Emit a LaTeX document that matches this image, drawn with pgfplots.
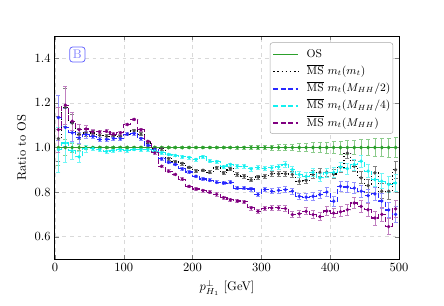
\documentclass[border=0pt]{standalone}
\usepackage{pgfplots}
\usepackage{pgfplotstable}
\pgfplotsset{compat=1.18}
\definecolor{osgreen}{RGB}{44,160,44}
\definecolor{msblue}{RGB}{40,40,255}
\definecolor{mscyan}{RGB}{20,240,240}
\definecolor{mspurple}{RGB}{128,0,128}
\definecolor{bbox}{RGB}{100,100,255}
\definecolor{legdraw}{RGB}{170,170,170}

\pgfplotstableread{
x   os  eos   mt    h2    h4    h1    e
5   1.0 0.080 1.040 1.134 0.990 1.080 0.100
15  1.0 0.035 1.180 1.090 1.020 1.190 0.085
25  1.0 0.020 1.110 1.066 0.985 1.118 0.040
35  1.0 0.012 1.060 1.043 0.958 1.080 0.025
45  1.0 0.008 1.065 1.058 0.995 1.083 0.015
55  1.0 0.004 1.065 1.050 0.995 1.070 0.010
65  1.0 0.004 1.055 1.036 0.990 1.070 0.008
75  1.0 0.004 1.050 1.036 0.982 1.073 0.007
85  1.0 0.004 1.055 1.040 0.986 1.060 0.006
95  1.0 0.004 1.050 1.040 0.990 1.066 0.006
105 1.0 0.004 1.060 1.060 0.986 1.103 0.006
115 1.0 0.004 1.075 1.062 0.991 1.126 0.006
125 1.0 0.004 1.060 1.040 0.990 1.080 0.006
135 1.0 0.004 1.020 1.010 0.990 1.028 0.006
145 1.0 0.004 0.995 0.990 0.984 0.976 0.006
155 1.0 0.004 0.995 0.949 0.976 0.916 0.006
165 1.0 0.004 0.950 0.934 0.969 0.894 0.006
175 1.0 0.004 0.935 0.924 0.964 0.879 0.006
185 1.0 0.004 0.928 0.904 0.958 0.858 0.006
195 1.0 0.004 0.911 0.890 0.955 0.826 0.006
205 1.0 0.005 0.895 0.871 0.946 0.814 0.006
215 1.0 0.005 0.898 0.859 0.958 0.807 0.006
225 1.0 0.005 0.889 0.853 0.939 0.800 0.007
235 1.0 0.006 0.909 0.844 0.936 0.790 0.007
245 1.0 0.006 0.886 0.841 0.913 0.775 0.007
255 1.0 0.006 0.904 0.844 0.924 0.765 0.007
265 1.0 0.007 0.879 0.818 0.916 0.760 0.008
275 1.0 0.007 0.871 0.818 0.916 0.756 0.008
285 1.0 0.008 0.855 0.814 0.904 0.729 0.009
295 1.0 0.008 0.868 0.789 0.909 0.714 0.009
305 1.0 0.010 0.871 0.812 0.906 0.727 0.010
315 1.0 0.011 0.882 0.804 0.909 0.729 0.011
325 1.0 0.012 0.882 0.808 0.913 0.729 0.012
335 1.0 0.014 0.882 0.811 0.924 0.726 0.013
345 1.0 0.015 0.879 0.804 0.901 0.699 0.014
355 1.0 0.017 0.849 0.781 0.879 0.703 0.015
365 1.0 0.019 0.853 0.777 0.871 0.714 0.016
375 1.0 0.021 0.879 0.781 0.889 0.699 0.017
385 1.0 0.023 0.889 0.789 0.864 0.690 0.018
395 1.0 0.025 0.889 0.800 0.886 0.715 0.019
405 1.0 0.027 0.881 0.759 0.888 0.706 0.021
415 1.0 0.029 0.911 0.826 0.913 0.712 0.022
425 1.0 0.031 0.975 0.823 0.905 0.721 0.024
435 1.0 0.033 0.916 0.818 0.924 0.751 0.025
445 1.0 0.035 0.864 0.804 0.939 0.736 0.027
455 1.0 0.037 0.829 0.784 0.894 0.721 0.029
465 1.0 0.039 0.886 0.792 0.856 0.684 0.031
475 1.0 0.041 0.804 0.760 0.849 0.700 0.033
485 1.0 0.043 0.804 0.720 0.834 0.645 0.035
495 1.0 0.045 0.900 0.700 0.841 0.725 0.037
}\data

\newcommand{\legline}[2]{{\color{#1}\tikz[baseline=-0.6ex]{\draw[color=#1, line width=1.3pt, #2] (0pt,0pt) -- (20pt,0pt);}}}

\begin{document}
\begin{tikzpicture}
\begin{axis}[
  name=ax,
  scale only axis,
  width=275.2pt, height=178.4pt,
  xmin=0, xmax=500, ymin=0.5, ymax=1.5,
  xtick={0,100,200,300,400,500},
  ytick={0.6,0.8,1.0,1.2,1.4},
  yticklabel style={/pgf/number format/.cd, fixed, fixed zerofill, precision=1},
  tick align=inside,
  xtick pos=both, ytick pos=both,
  major tick length=3.5pt,
  axis line style={line width=0.8pt},
  grid=major,
  major grid style={dashed, gray!30, line width=0.4pt},
  xlabel={$p_{H_1}^{\perp}$ [GeV]},
  ylabel={Ratio to OS},
  error bars/error bar style={solid, line width=0.6pt},
]
\pgfplotsset{every axis plot/.append style={const plot mark mid, line width=0.9pt, mark=*, mark size=0.85pt}}
% OS
\addplot[forget plot, osgreen, solid, line width=1.1pt, mark options={solid, fill=osgreen, draw=osgreen},
  error bars/.cd, y dir=both, y explicit,
  error bar style={osgreen!55}, error mark options={rotate=90, mark size=1.6pt, osgreen!55, line width=0.6pt}]
  table[x=x, y=os, y error=eos]{\data};
% MS mt(mt)
\addplot[forget plot, black, dotted, mark options={solid, fill=black!55, draw=black!70},
  error bars/.cd, y dir=both, y explicit,
  error bar style={black!50}, error mark options={rotate=90, mark size=1.6pt, black!50, line width=0.6pt}]
  table[x=x, y=mt, y error=e]{\data};
% MS mt(MHH/2)
\addplot[forget plot, msblue, dash pattern=on 4pt off 2pt, mark options={solid, fill=msblue, draw=msblue},
  error bars/.cd, y dir=both, y explicit,
  error bar style={msblue!50}, error mark options={rotate=90, mark size=1.6pt, msblue!50, line width=0.6pt}]
  table[x=x, y=h2, y error=e]{\data};
% MS mt(MHH/4)
\addplot[forget plot, mscyan, dash pattern=on 4pt off 2pt, mark options={solid, fill=mscyan, draw=mscyan},
  error bars/.cd, y dir=both, y explicit,
  error bar style={mscyan!60}, error mark options={rotate=90, mark size=1.6pt, mscyan!60, line width=0.6pt}]
  table[x=x, y=h4, y error=e]{\data};
% MS mt(MHH)
\addplot[forget plot, mspurple, dash pattern=on 4pt off 2pt, mark options={solid, fill=mspurple, draw=mspurple},
  error bars/.cd, y dir=both, y explicit,
  error bar style={mspurple!50}, error mark options={rotate=90, mark size=1.6pt, mspurple!50, line width=0.6pt}]
  table[x=x, y=h1, y error=e]{\data};

\node[draw=bbox, rounded corners=2pt, line width=0.6pt, text=bbox!80, inner sep=2.5pt, fill=white]
  at (rel axis cs:0.065,0.917) {B};

\node[draw=legdraw, rounded corners=2pt, fill=white, anchor=north east, inner sep=2pt, font=\small]
  at (rel axis cs:0.983,0.971) {%
  \renewcommand{\arraystretch}{1.25}%
  \begin{tabular}{@{}l@{\hspace{6pt}}l@{}}
  \legline{osgreen}{solid} & OS\\
  \legline{black}{dotted} & $\overline{\mathrm{MS}}\ m_t(m_t)$\\
  \legline{msblue}{dash pattern=on 4pt off 2pt} & $\overline{\mathrm{MS}}\ m_t(M_{HH}/2)$\\
  \legline{mscyan}{dash pattern=on 4pt off 2pt} & $\overline{\mathrm{MS}}\ m_t(M_{HH}/4)$\\
  \legline{mspurple}{dash pattern=on 4pt off 2pt} & $\overline{\mathrm{MS}}\ m_t(M_{HH})$
  \end{tabular}};
\end{axis}
\pgfresetboundingbox
\path ([shift={(-44pt,-36.8pt)}]ax.south west) rectangle ([shift={(36pt,28.8pt)}]ax.north east);
\end{tikzpicture}
\end{document}
